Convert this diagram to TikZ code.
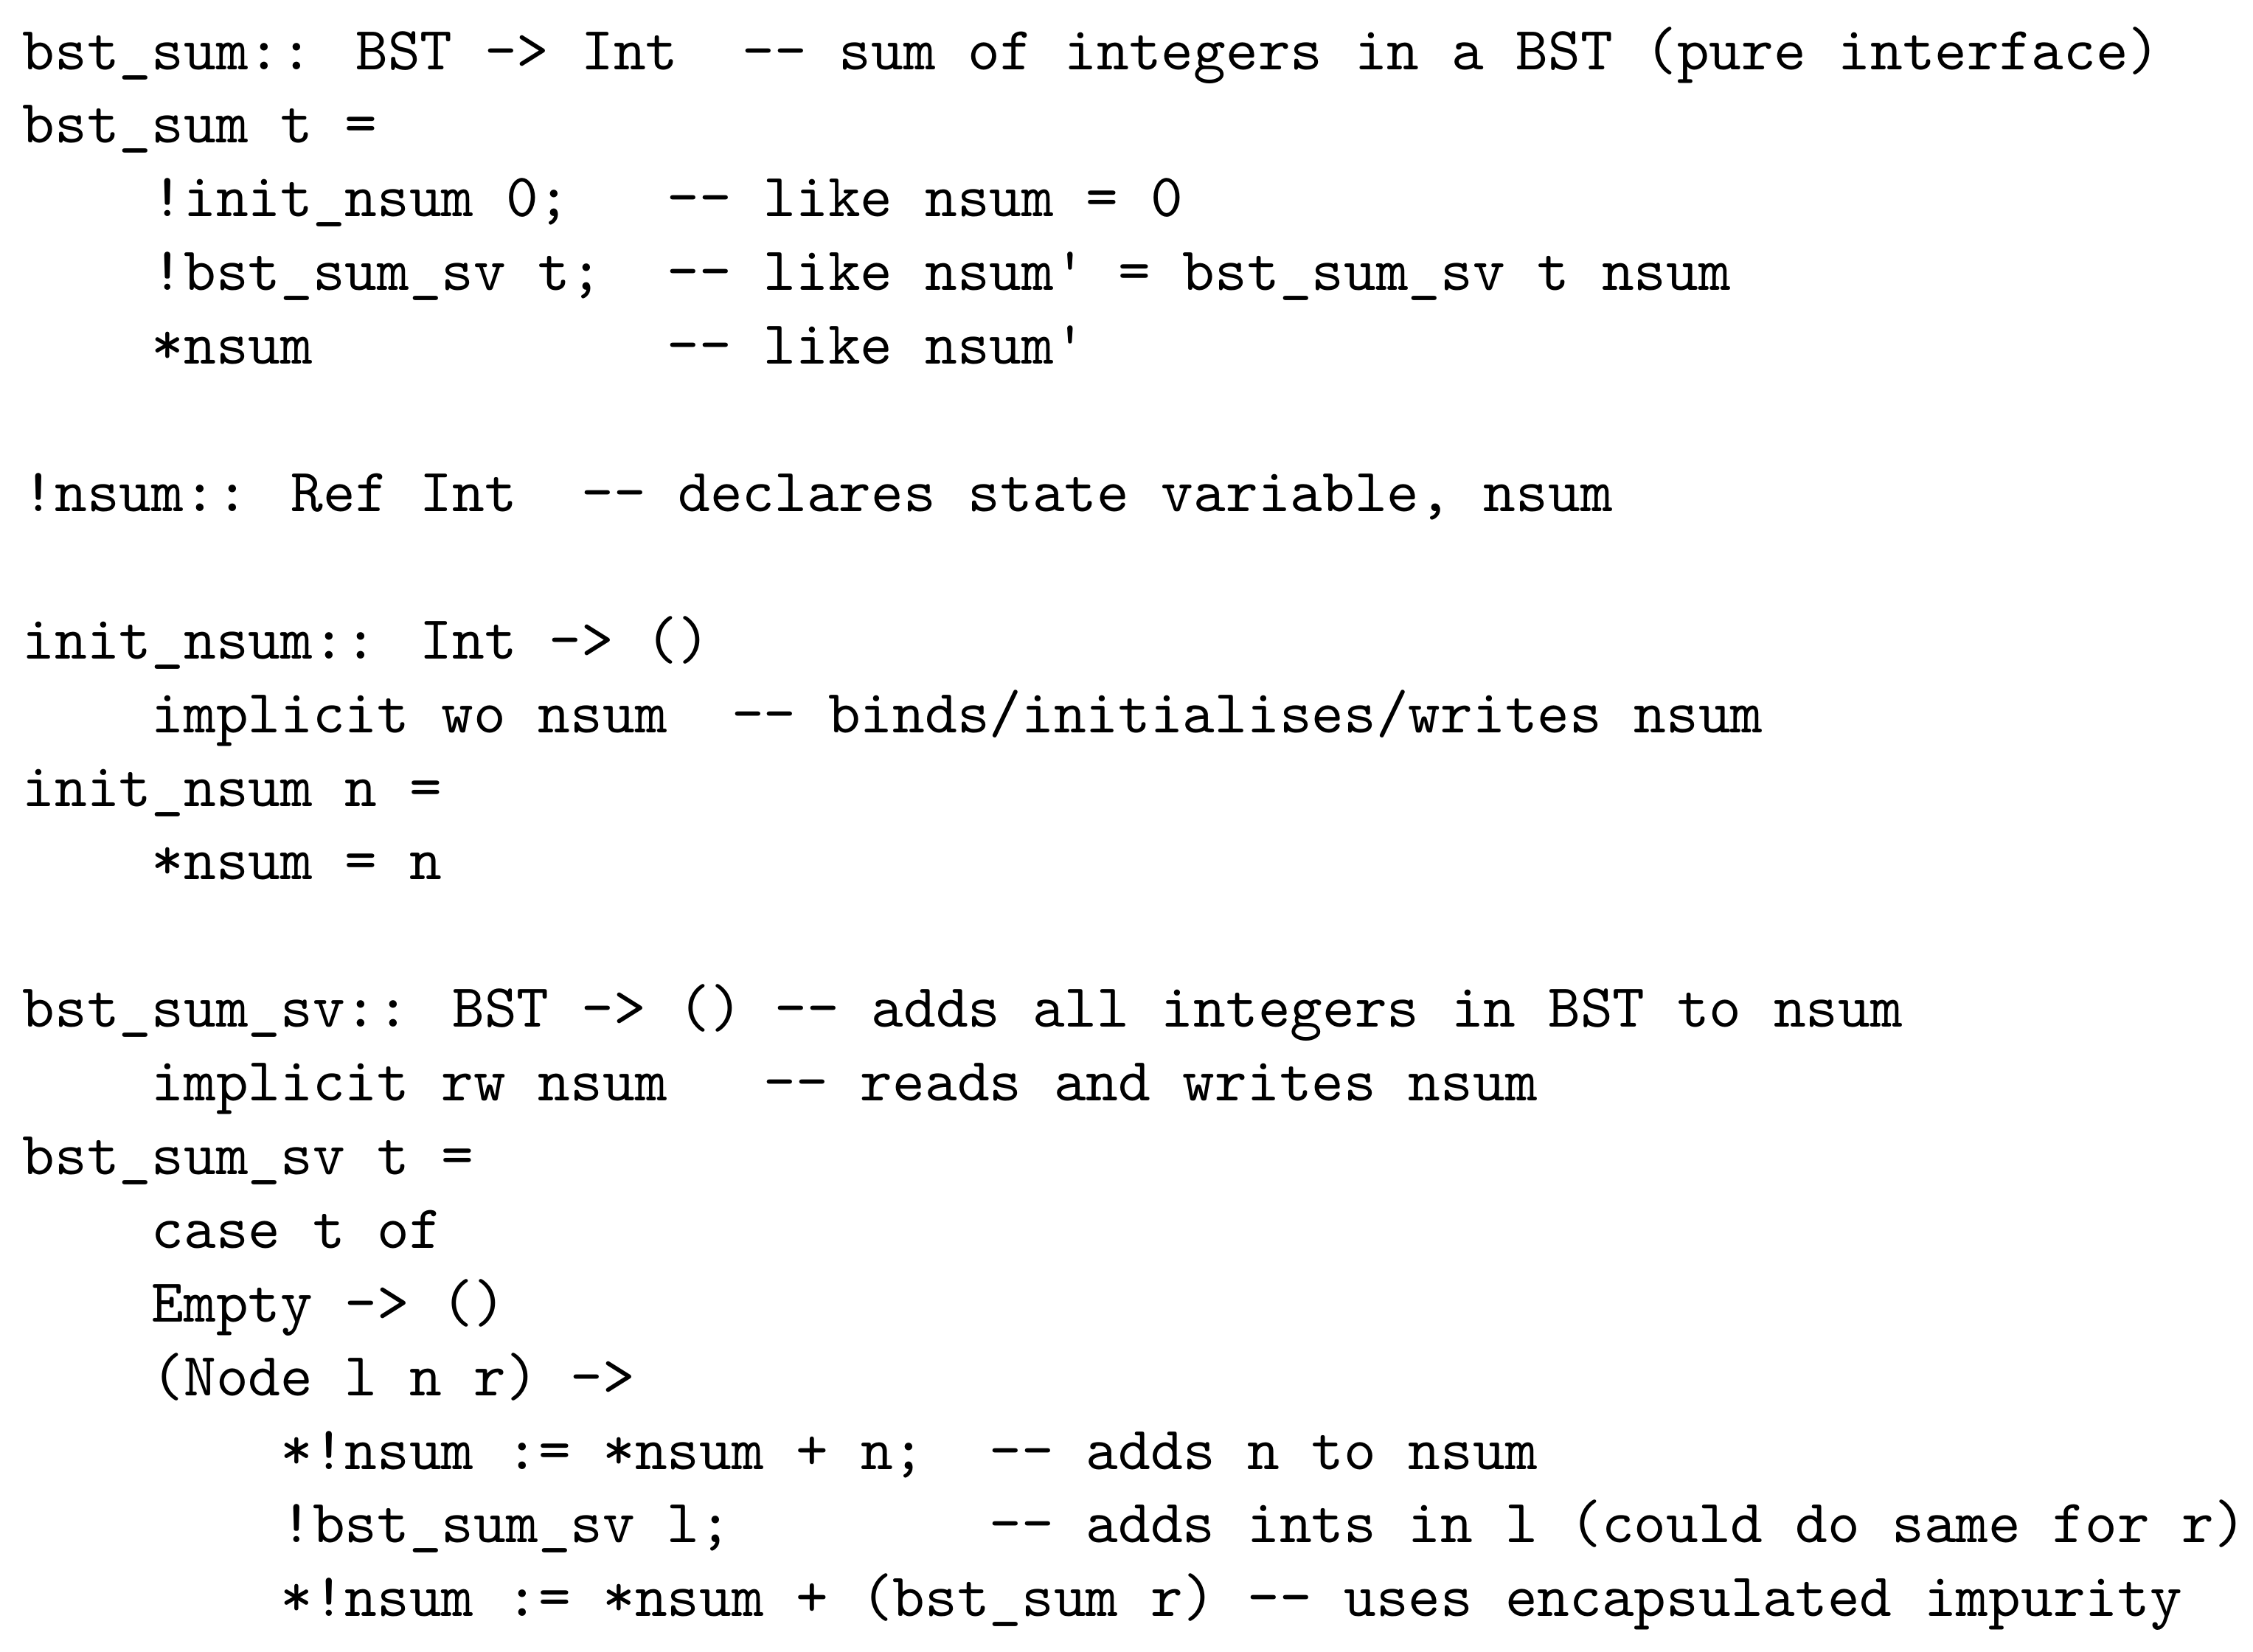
\documentclass[tikz,border=0pt]{standalone}
\begin{document}
\begin{tikzpicture}[code/.style={anchor=base west,inner sep=0pt,font=\ttfamily}]
\useasboundingbox (0,0) rectangle (367pt,-269pt);
\def\Y#1{-11.3pt-#1*12pt}
\node[code] (l0) at (3.5pt,{\Y{0}}) {bst\_sum:: BST -> Int~~{-}{-} sum of integers in a BST (pure interface)};
\node[code] (l1) at (3.5pt,{\Y{1}}) {bst\_sum t =};
\node[code] (l2) at (3.5pt,{\Y{2}}) {~~~~!init\_nsum 0;~~~{-}{-} like nsum = 0};
\node[code] (l3) at (3.5pt,{\Y{3}}) {~~~~!bst\_sum\_sv t;~~{-}{-} like nsum' = bst\_sum\_sv t nsum};
\node[code] (l4) at (3.5pt,{\Y{4}}) {~~~~*nsum~~~~~~~~~~~{-}{-} like nsum'};
\node[code] (l6) at (3.5pt,{\Y{6}}) {!nsum:: Ref Int~~{-}{-} declares state variable, nsum};
\node[code] (l8) at (3.5pt,{\Y{8}}) {init\_nsum:: Int -> ()};
\node[code] (l9) at (3.5pt,{\Y{9}}) {~~~~implicit wo nsum~~{-}{-} binds/initialises/writes nsum};
\node[code] (l10) at (3.5pt,{\Y{10}}) {init\_nsum n =};
\node[code] (l11) at (3.5pt,{\Y{11}}) {~~~~*nsum = n};
\node[code] (l13) at (3.5pt,{\Y{13}}) {bst\_sum\_sv:: BST -> () {-}{-} adds all integers in BST to nsum};
\node[code] (l14) at (3.5pt,{\Y{14}}) {~~~~implicit rw nsum~~~{-}{-} reads and writes nsum};
\node[code] (l15) at (3.5pt,{\Y{15}}) {bst\_sum\_sv t =};
\node[code] (l16) at (3.5pt,{\Y{16}}) {~~~~case t of};
\node[code] (l17) at (3.5pt,{\Y{17}}) {~~~~Empty -> ()};
\node[code] (l18) at (3.5pt,{\Y{18}}) {~~~~(Node l n r) ->};
\node[code] (l19) at (3.5pt,{\Y{19}}) {~~~~~~~~*!nsum := *nsum + n;~~{-}{-} adds n to nsum};
\node[code] (l20) at (3.5pt,{\Y{20}}) {~~~~~~~~!bst\_sum\_sv l;~~~~~~~~{-}{-} adds ints in l (could do same for r)};
\node[code] (l21) at (3.5pt,{\Y{21}}) {~~~~~~~~*!nsum := *nsum + (bst\_sum r) {-}{-} uses encapsulated impurity};
\end{tikzpicture}
\end{document}
